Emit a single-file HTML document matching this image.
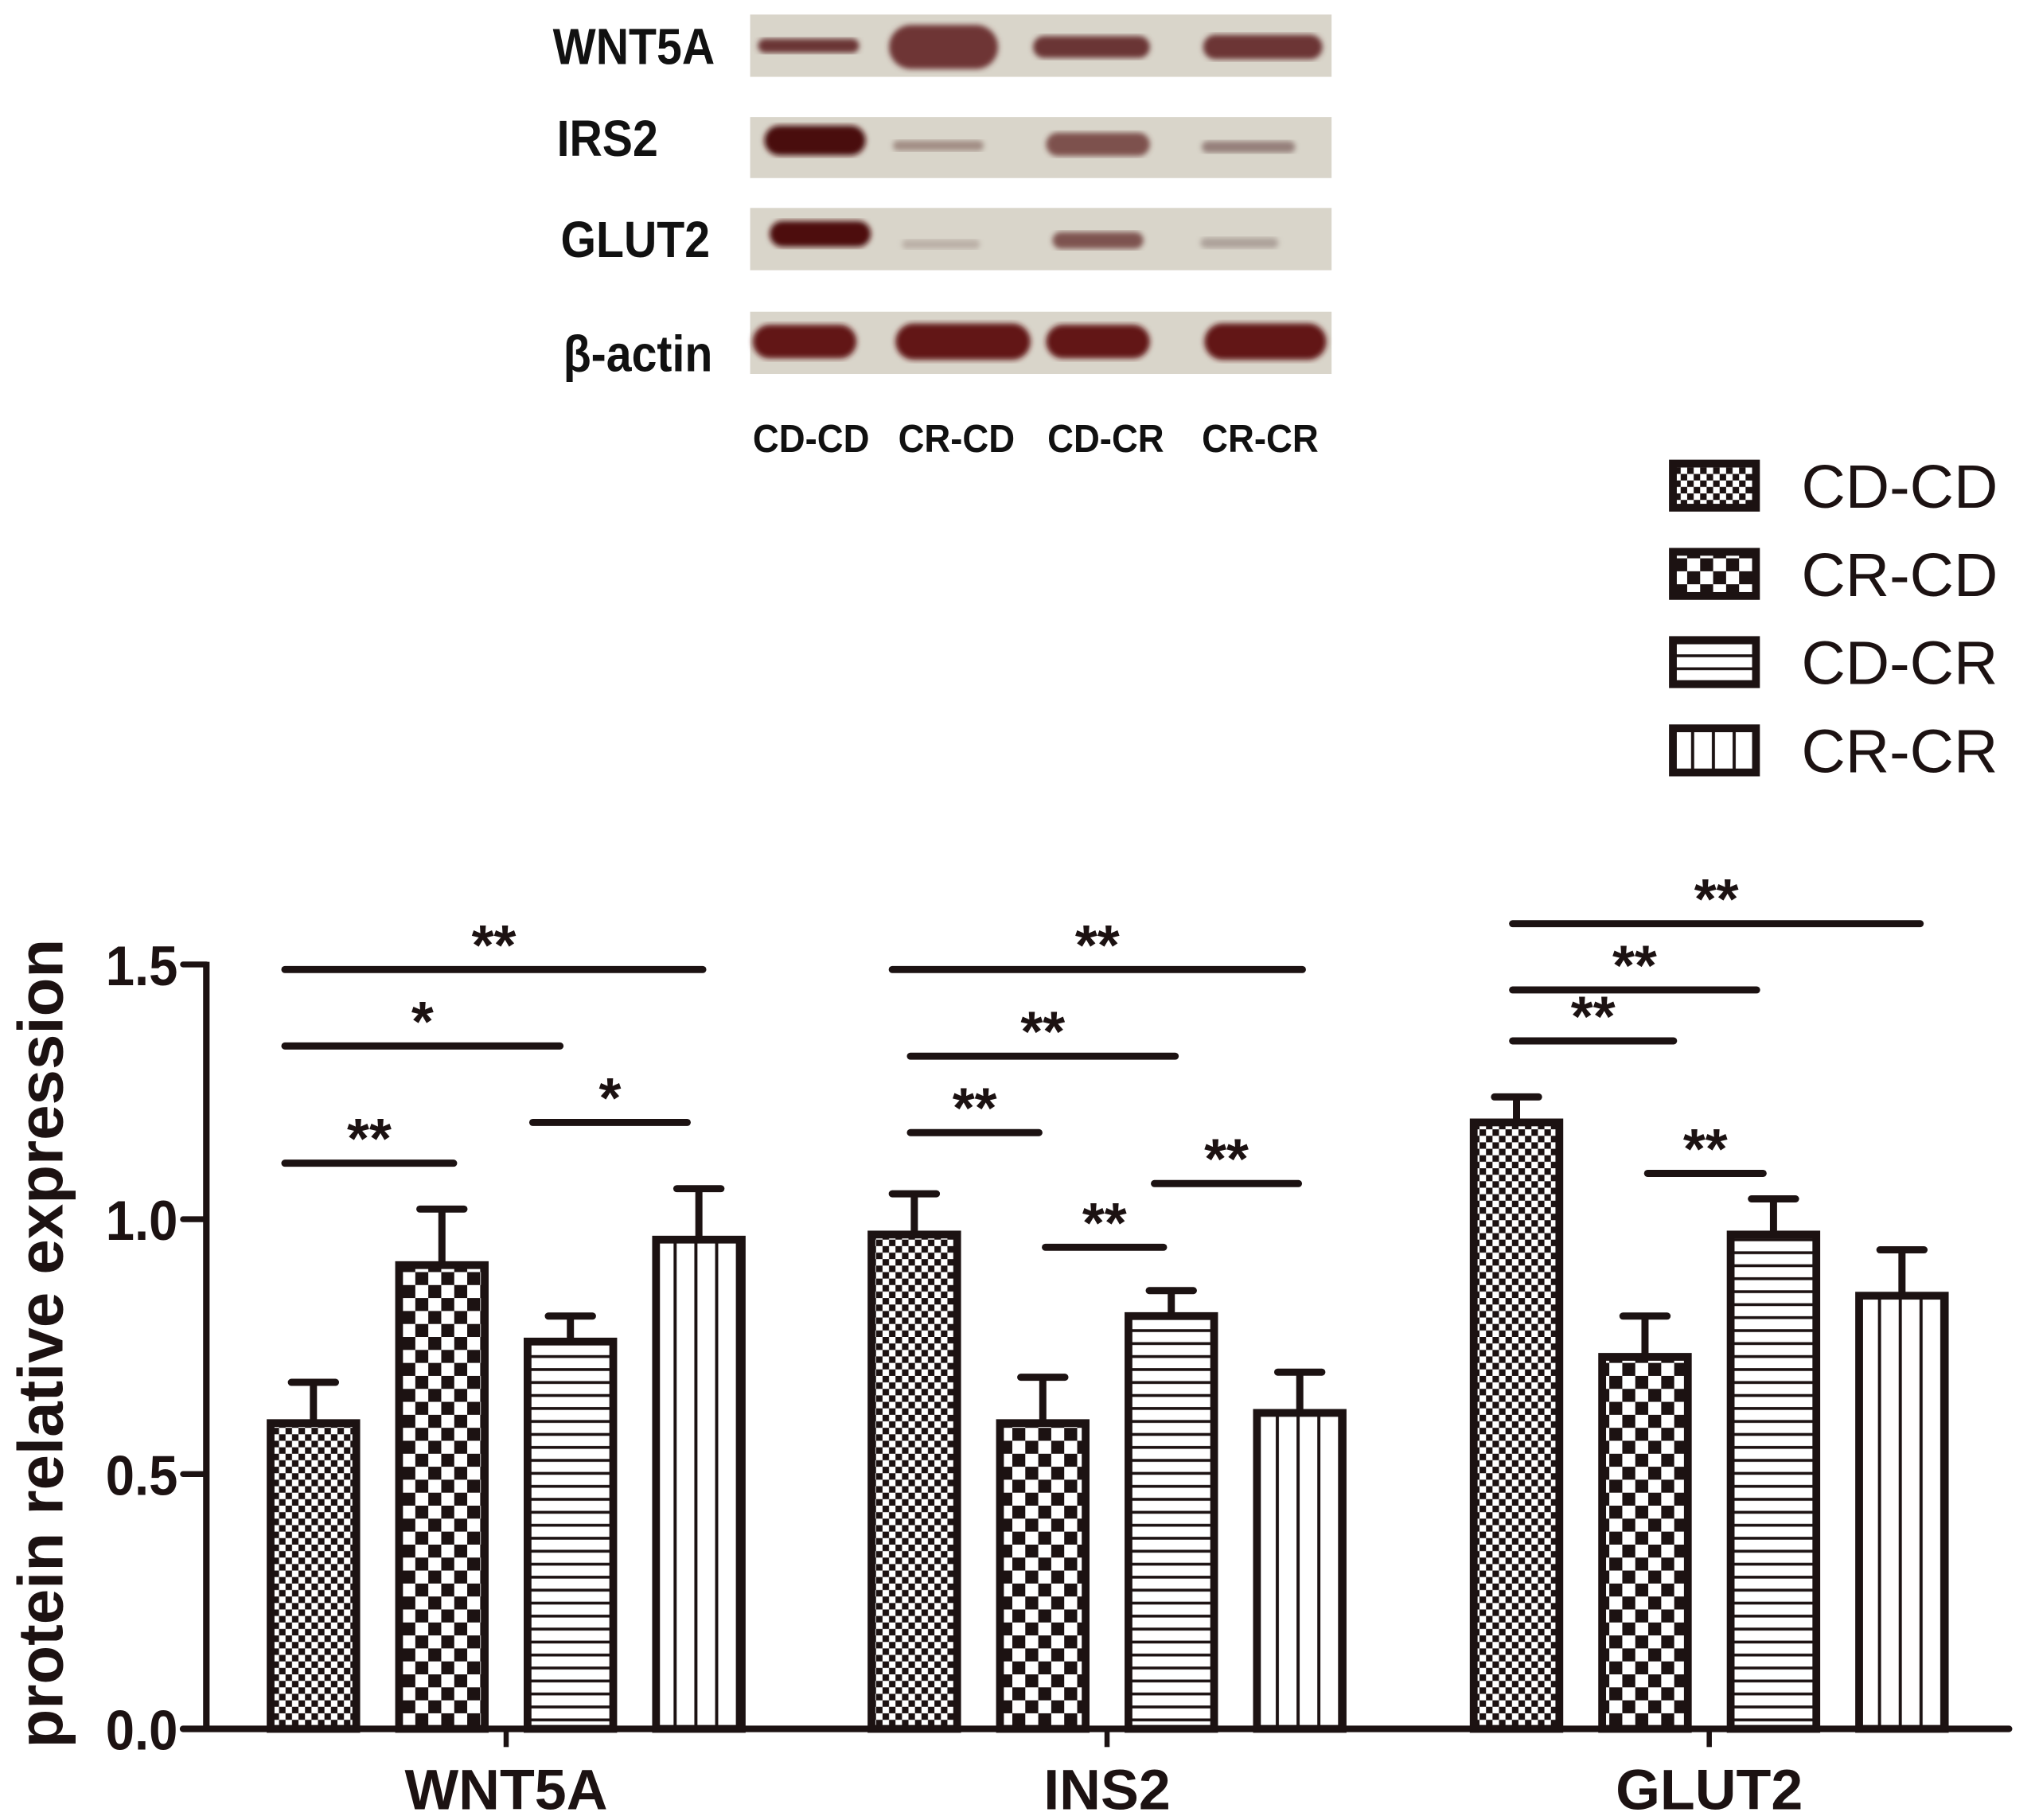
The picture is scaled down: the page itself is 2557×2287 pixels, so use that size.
<!DOCTYPE html>
<html><head><meta charset="utf-8"><style>
html,body{margin:0;padding:0;background:#fff;}
svg{display:block;}
</style></head><body>
<svg id="fig" xmlns="http://www.w3.org/2000/svg" width="2557" height="2287" viewBox="0 0 1568 1402">
<defs>
<pattern id="p-small" width="10" height="10" patternUnits="userSpaceOnUse"><rect width="10" height="10" fill="#fff"/><rect width="5" height="5" fill="#1c1212"/><rect x="5" y="5" width="5" height="5" fill="#1c1212"/></pattern>
<pattern id="p-big" width="20" height="20" patternUnits="userSpaceOnUse"><rect width="20" height="20" fill="#fff"/><rect width="10" height="10" fill="#1c1212"/><rect x="10" y="10" width="10" height="10" fill="#1c1212"/></pattern>
<pattern id="p-h" width="10" height="10" patternUnits="userSpaceOnUse"><rect width="10" height="10" fill="#fff"/><rect y="4" width="10" height="2.2" fill="#1c1212"/></pattern>
<pattern id="p-v" width="16" height="10" patternUnits="userSpaceOnUse"><rect width="16" height="10" fill="#fff"/><rect x="7" width="2.4" height="10" fill="#1c1212"/></pattern>
<filter id="blur"><feGaussianBlur stdDeviation="2.2"/></filter>
</defs>
<g id="blot"></g>
<g id="legend"></g>
<g id="chart"></g>
</svg>
<script>
const groups = ["WNT5A", "INS2", "GLUT2"];
const seriesNames = ["CD-CD", "CR-CD", "CD-CR", "CR-CR"];
const cdcd = [0.60, 0.97, 1.19];
const crcd = [0.91, 0.60, 0.73];
const cdcr = [0.76, 0.81, 0.97];
const crcr = [0.96, 0.62, 0.85];
const cdcdErr = [0.08, 0.08, 0.05];
const crcdErr = [0.11, 0.09, 0.08];
const cdcrErr = [0.05, 0.05, 0.07];
const crcrErr = [0.10, 0.08, 0.09];
const yTicks = [0.0, 0.5, 1.0, 1.5];
const yTickLabels = ["0.0", "0.5", "1.0", "1.5"];
const sigGroup = [0,0,0,0, 1,1,1,1,1, 2,2,2,2];
const sigFrom  = [0,0,0,2, 0,0,0,1,2, 0,0,0,1];
const sigTo    = [3,2,1,3, 3,2,1,2,3, 3,2,1,2];
const sigLevel = [1.49,1.34,1.11,1.19, 1.49,1.32,1.17,0.945,1.07, 1.58,1.45,1.35,1.09];
const sigLabel = ["**","*","**","*", "**","**","**","**","**", "**","**","**","**"];

const NS = "http://www.w3.org/2000/svg";
function mk(tag, attrs, parent, text){
  const e = document.createElementNS(NS, tag);
  for (const k in attrs) e.setAttribute(k, attrs[k]);
  if (text !== undefined) e.textContent = text;
  parent.appendChild(e);
  return e;
}
const INK = "#1c1212";
const pats = ["url(#p-small)","url(#p-big)","url(#p-h)","url(#p-v)"];
const allVals = [cdcd, crcd, cdcr, crcr];
const allErr = [cdcdErr, crcdErr, cdcrErr, crcrErr];
const sigOffA = [-22,-22,-22,-29, -17,-3,-3,2,-13, -3,-3,-3,2];
const sigOffB = [3,-8,9,-9, 2,3,-3,-6,-1, 14,-13,22,-8];

const x0 = 159, x1 = 1548, yBase = 1332, pxPerUnit = 392.7;
function yScale(v){ return yBase - v * pxPerUnit; }
const groupCenter = [390, 853, 1317];
const barStep = 99, barW = 66;
function xBar(g, s){ return groupCenter[g] + (s - 1.5) * barStep; }

const chart = document.getElementById('chart');
for (let s = 0; s < 4; s++){
  for (let g = 0; g < 3; g++){
    const v = allVals[s][g], e = allErr[s][g];
    const cx = xBar(g, s), yt = yScale(v);
    const eb = mk('g', {}, chart);
    
    
    mk('line', {x1:cx, y1:yt, x2:cx, y2:yScale(v+e), stroke:INK, 'stroke-width':5.5}, eb);
    mk('line', {x1:cx-17, y1:yScale(v+e), x2:cx+17, y2:yScale(v+e), stroke:INK, 'stroke-width':5.5, 'stroke-linecap':'round'}, eb);
    const r = mk('rect', {x:cx-barW/2, y:yt, width:barW, height:yBase-yt, fill:pats[s], stroke:INK, 'stroke-width':6}, chart);
    
    
  }
}
const yAxis = mk('g', {}, chart);


mk('line', {x1:x0, y1:yScale(1.5)-2, x2:x0, y2:yBase+2, stroke:INK, 'stroke-width':5}, yAxis);
yTicks.forEach((t, i) => {
  mk('line', {x1:x0-18, y1:yScale(t), x2:x0, y2:yScale(t), stroke:INK, 'stroke-width':4.5, 'stroke-linecap':'round'}, yAxis);
  const tl = mk('text', {x:x0-22, y:yScale(t)+16, 'text-anchor':'end', 'font-family':'Liberation Sans, sans-serif', 'font-weight':'bold', 'font-size':43, fill:INK, transform:'translate('+(x0-22)+',0) scale(0.93,1) translate('+(-(x0-22))+',0)'}, yAxis, yTickLabels[i]);
  
  
});
const yt = mk('text', {x:0, y:0, transform:'translate(48,1035) rotate(-90)', 'text-anchor':'middle', 'font-family':'Liberation Sans, sans-serif', 'font-weight':'bold', 'font-size':49, fill:INK}, chart, 'protein relative expression');


const xAxis = mk('g', {}, chart);


mk('line', {x1:x0-18, y1:yBase, x2:x1, y2:yBase, stroke:INK, 'stroke-width':5, 'stroke-linecap':'round'}, xAxis);
groups.forEach((gname, g) => {
  mk('line', {x1:groupCenter[g], y1:yBase, x2:groupCenter[g], y2:yBase+14, stroke:INK, 'stroke-width':4}, xAxis);
  const xl = mk('text', {x:groupCenter[g], y:1394, 'text-anchor':'middle', 'font-family':'Liberation Sans, sans-serif', 'font-weight':'bold', 'font-size':44, fill:INK}, xAxis, gname);
  
  
});
for (let i = 0; i < sigGroup.length; i++){
  const g = sigGroup[i];
  const xa = xBar(g, sigFrom[i]) + sigOffA[i], xb = xBar(g, sigTo[i]) + sigOffB[i];
  const y = yScale(sigLevel[i]);
  const sg = mk('g', {}, chart);
  
  
  mk('line', {x1:xa, y1:y, x2:xb, y2:y, stroke:INK, 'stroke-width':5.5, 'stroke-linecap':'round'}, sg);
  mk('text', {x:(xa+xb)/2, y:y-4, 'text-anchor':'middle', 'font-family':'Liberation Sans, sans-serif', 'font-weight':'bold', 'font-size':44, fill:INK}, sg, sigLabel[i]);
}

const legend = document.getElementById('legend');
seriesNames.forEach((n, s) => {
  const y = 357 + s * 68;
  const le = mk('g', {}, legend);
  
  
  mk('rect', {x:1289, y:y, width:64, height:34, fill:pats[s], stroke:INK, 'stroke-width':6}, le);
  mk('text', {x:1388, y:y+34, 'font-family':'Liberation Sans, sans-serif', 'font-size':47, fill:INK}, le, n);
});

const blot = document.getElementById('blot');
const rowNames = ["WNT5A","IRS2","GLUT2","β-actin"];
const rowY = [11, 90, 160, 240];
const rowH = [48, 47, 48, 48];
const rowLabelY = [49, 120, 198, 286];
const rowLabelX = [426, 429, 432, 434];
const bands = [
  [0,623,35,78,11,"#6a3636",1],[0,727,36,84,34,"#6e3434",1],[0,841,36,90,17,"#6b3535",1],[0,973,36,92,19,"#6c3535",1],
  [1,628,108,78,23,"#4a0e0e",1],[1,723,112,70,8,"#8a7068",0.7],[1,846,111,80,18,"#6e3a38",0.85],[1,962,113,72,9,"#7f6460",0.75],
  [2,632,180,78,20,"#4d1010",1],[2,725,188,60,7,"#a09088",0.55],[2,846,185,70,13,"#6e3c3a",0.85],[2,955,187,60,8,"#90807a",0.6],
  [3,620,263,80,26,"#621818",1],[3,742,263,104,28,"#621818",1],[3,846,263,80,26,"#621818",1],[3,975,263,94,28,"#621818",1]
];
rowNames.forEach((n, r) => {
  const p = mk('rect', {x:578, y:rowY[r], width:448, height:rowH[r], fill:"#d9d5ca"}, blot);
  
  
  const t = mk('text', {x:rowLabelX[r], y:rowLabelY[r], 'font-family':'Liberation Sans Narrow, Liberation Sans, sans-serif', 'font-weight':'bold', 'font-size':39, fill:"#111", transform:'translate('+rowLabelX[r]+',0) scale(0.9,1) translate('+(-rowLabelX[r])+',0)'}, blot, n);
  
  
});
bands.forEach(b => {
  const e = mk('rect', {x:b[1]-b[3]/2, y:b[2]-b[4]/2, width:b[3], height:b[4], rx:b[4]/2, ry:b[4]/2, fill:b[5], opacity:b[6], filter:'url(#blur)'}, blot);
  
  
});
const laneX = [625, 737, 852, 971];
seriesNames.forEach((n, i) => {
  const t = mk('text', {x:laneX[i], y:348, 'text-anchor':'middle', 'font-family':'Liberation Sans Narrow, Liberation Sans, sans-serif', 'font-weight':'bold', 'font-size':30, fill:"#111", transform:'translate('+laneX[i]+',0) scale(0.93,1) translate('+(-laneX[i])+',0)'}, blot, n);
  
  
});
</script>
</body></html>
